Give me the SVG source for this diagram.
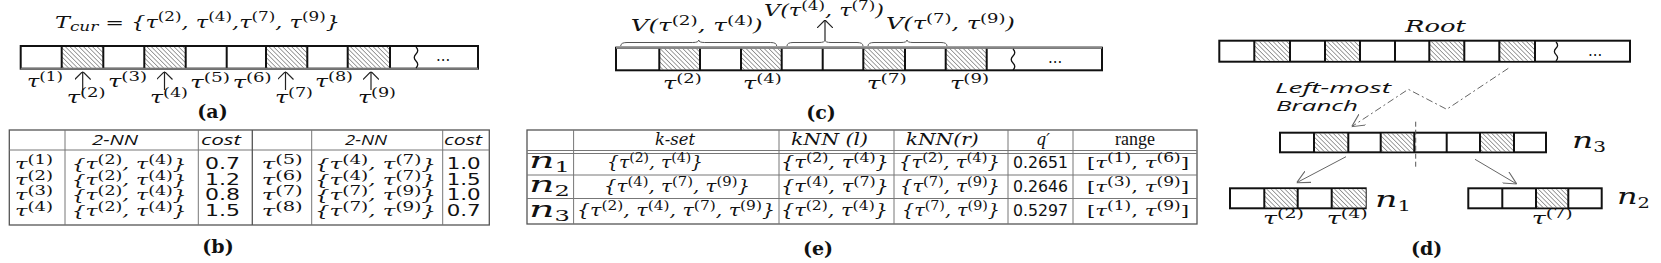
<svg xmlns="http://www.w3.org/2000/svg" width="1661" height="263" viewBox="0 0 1661 263">
<style>
.bg{fill:#fff}
.cell{fill:#fff;stroke:#111;stroke-width:2}
.hat{fill:url(#h);stroke:none}
.dv{stroke:#111;stroke-width:2}
.m{font-family:"DejaVu Serif",serif;font-style:italic;font-size:16px;fill:#111}
.t{font-size:15px}
.s{font-size:12px;font-style:normal}
.lab{font-family:"DejaVu Serif",serif;font-weight:bold;font-size:19px;fill:#111}
.sans{font-family:"Open Sans","DejaVu Sans",sans-serif;font-style:italic;font-size:15px;fill:#111}
.num{font-family:"DejaVu Sans",sans-serif;font-size:15px;fill:#111}
.rm{font-family:"DejaVu Serif",serif;font-size:15px;fill:#111}
.tl{stroke:#777;stroke-width:1;fill:none}
.tb{stroke:#555;stroke-width:1.3;fill:none}
.ar{stroke:#222;stroke-width:1.2;fill:none}
.gr{stroke:#666;stroke-width:1;fill:none}
.br{stroke:#555;stroke-width:1;fill:none}
.nn{font-family:"DejaVu Serif",serif;font-style:italic;font-size:23px;fill:#111}
.sub{font-size:14px;font-style:normal}
</style>
<defs>
<pattern id="h" patternUnits="userSpaceOnUse" width="3.2" height="3.2" patternTransform="rotate(-45)">
<rect width="3.2" height="3.2" fill="#fff"/>
<line x1="0" y1="0" x2="0" y2="3.2" stroke="#444" stroke-width="1"/>
</pattern>
<marker id="oa" viewBox="0 0 8 16" refX="8" refY="8" markerWidth="8" markerHeight="16" orient="auto" markerUnits="userSpaceOnUse">
<path d="M0,0 L8,8 L0,16" fill="none" stroke="#222" stroke-width="1.2"/>
</marker>
<marker id="ga" viewBox="0 0 12 12" refX="12" refY="6" markerWidth="13" markerHeight="13" orient="auto" markerUnits="userSpaceOnUse">
<path d="M0,0 L12,6 L0,12" fill="none" stroke="#666" stroke-width="1"/>
</marker>
</defs>
<rect class="bg" width="1661" height="263"/>

<!-- (a) -->
<g id="panel-a">
<text class="m" x="55" y="28" font-size="17" textLength="285" lengthAdjust="spacingAndGlyphs">T<tspan class="s" style="font-style:italic" dy="3">cur</tspan><tspan dy="-3"> = {τ</tspan><tspan class="s" dy="-7">(2)</tspan><tspan dy="7">, τ</tspan><tspan class="s" dy="-7">(4)</tspan><tspan dy="7">,τ</tspan><tspan class="s" dy="-7">(7)</tspan><tspan dy="7">, τ</tspan><tspan class="s" dy="-7">(9)</tspan><tspan dy="7">}</tspan></text>
<g id="array-a">
<rect class="cell" x="20.7" y="46" width="457.3" height="22.7"/>
<rect class="hat" x="61.7" y="47" width="41.6" height="20.7"/>
<rect class="hat" x="144.3" y="47" width="41.4" height="20.7"/>
<rect class="hat" x="266" y="47" width="41.3" height="20.7"/>
<rect class="hat" x="347.7" y="47" width="42.3" height="20.7"/>
<path class="dv" d="M61.7,46V68.7M103.3,46V68.7M144.3,46V68.7M185.7,46V68.7M226.7,46V68.7M266,46V68.7M307.3,46V68.7M347.7,46V68.7M390,46V68.7"/>
<line x1="20.7" y1="68.7" x2="478" y2="68.7" stroke="#777" stroke-width="2"/>
<path d="M416,47 q3.5,3.5 0,7 q-3.5,3.5 0,7 q3.5,3.5 0,7" fill="none" stroke="#111" stroke-width="1.3"/>
<text class="num" x="436" y="61">...</text>
</g>
<g id="arrows-a">
<line class="ar" x1="82.7" y1="90" x2="82.7" y2="71.5" marker-end="url(#oa)"/>
<line class="ar" x1="164.5" y1="90" x2="164.5" y2="71.5" marker-end="url(#oa)"/>
<line class="ar" x1="285.5" y1="90" x2="285.5" y2="71.5" marker-end="url(#oa)"/>
<line class="ar" x1="371" y1="90" x2="371" y2="71.5" marker-end="url(#oa)"/>
</g>
<g id="labels-a">
<text class="m" x="27" y="87" textLength="36" lengthAdjust="spacingAndGlyphs">τ<tspan class="s" dy="-6">(1)</tspan></text>
<text class="m" x="66.7" y="103" textLength="39" lengthAdjust="spacingAndGlyphs">τ<tspan class="s" dy="-6">(2)</tspan></text>
<text class="m" x="108" y="87" textLength="39" lengthAdjust="spacingAndGlyphs">τ<tspan class="s" dy="-6">(3)</tspan></text>
<text class="m" x="150" y="103" textLength="38" lengthAdjust="spacingAndGlyphs">τ<tspan class="s" dy="-6">(4)</tspan></text>
<text class="m" x="190" y="88" textLength="40" lengthAdjust="spacingAndGlyphs">τ<tspan class="s" dy="-6">(5)</tspan></text>
<text class="m" x="232.7" y="88" textLength="39" lengthAdjust="spacingAndGlyphs">τ<tspan class="s" dy="-6">(6)</tspan></text>
<text class="m" x="275" y="103" textLength="38" lengthAdjust="spacingAndGlyphs">τ<tspan class="s" dy="-6">(7)</tspan></text>
<text class="m" x="315" y="87" textLength="38" lengthAdjust="spacingAndGlyphs">τ<tspan class="s" dy="-6">(8)</tspan></text>
<text class="m" x="358" y="103" textLength="38" lengthAdjust="spacingAndGlyphs">τ<tspan class="s" dy="-6">(9)</tspan></text>
</g>
<text class="lab" x="212.5" y="118" text-anchor="middle">(a)</text>
</g>

<!-- (b) -->
<g id="panel-b">
<rect class="tb" x="9.3" y="130" width="480" height="95"/>
<path class="tl" d="M9.3,150H489.3M65,130V225M198.3,130V225M311.7,130V225M442.7,130V225"/>
<line x1="252.3" y1="130" x2="252.3" y2="225" stroke="#555" stroke-width="1.3"/>
<text class="sans" x="92" y="145" textLength="46" lengthAdjust="spacingAndGlyphs">2-NN</text>
<text class="sans" x="201" y="145" textLength="40" lengthAdjust="spacingAndGlyphs">cost</text>
<text class="sans" x="345" y="145" textLength="42" lengthAdjust="spacingAndGlyphs">2-NN</text>
<text class="sans" x="444" y="145" textLength="38" lengthAdjust="spacingAndGlyphs">cost</text>
<g id="rows-b-left">
<text class="m t" x="15" y="169" textLength="38" lengthAdjust="spacingAndGlyphs">τ<tspan class="s" dy="-5">(1)</tspan></text>
<text class="m t" x="15" y="184.5" textLength="38" lengthAdjust="spacingAndGlyphs">τ<tspan class="s" dy="-5">(2)</tspan></text>
<text class="m t" x="15" y="200" textLength="38" lengthAdjust="spacingAndGlyphs">τ<tspan class="s" dy="-5">(3)</tspan></text>
<text class="m t" x="15" y="216" textLength="38" lengthAdjust="spacingAndGlyphs">τ<tspan class="s" dy="-5">(4)</tspan></text>
<text class="m t" x="71.7" y="169" textLength="115" lengthAdjust="spacingAndGlyphs">{τ<tspan class="s" dy="-5">(2)</tspan><tspan dy="5">, τ</tspan><tspan class="s" dy="-5">(4)</tspan><tspan dy="5">}</tspan></text>
<text class="m t" x="71.7" y="184.5" textLength="115" lengthAdjust="spacingAndGlyphs">{τ<tspan class="s" dy="-5">(2)</tspan><tspan dy="5">, τ</tspan><tspan class="s" dy="-5">(4)</tspan><tspan dy="5">}</tspan></text>
<text class="m t" x="71.7" y="200" textLength="115" lengthAdjust="spacingAndGlyphs">{τ<tspan class="s" dy="-5">(2)</tspan><tspan dy="5">, τ</tspan><tspan class="s" dy="-5">(4)</tspan><tspan dy="5">}</tspan></text>
<text class="m t" x="71.7" y="216" textLength="115" lengthAdjust="spacingAndGlyphs">{τ<tspan class="s" dy="-5">(2)</tspan><tspan dy="5">, τ</tspan><tspan class="s" dy="-5">(4)</tspan><tspan dy="5">}</tspan></text>
<text class="num" x="205" y="169" textLength="35" lengthAdjust="spacingAndGlyphs">0.7</text>
<text class="num" x="205" y="184.5" textLength="35" lengthAdjust="spacingAndGlyphs">1.2</text>
<text class="num" x="205" y="200" textLength="35" lengthAdjust="spacingAndGlyphs">0.8</text>
<text class="num" x="205" y="216" textLength="35" lengthAdjust="spacingAndGlyphs">1.5</text>
</g>
<g id="rows-b-right">
<text class="m t" x="261.7" y="169" textLength="41" lengthAdjust="spacingAndGlyphs">τ<tspan class="s" dy="-5">(5)</tspan></text>
<text class="m t" x="261.7" y="184.5" textLength="41" lengthAdjust="spacingAndGlyphs">τ<tspan class="s" dy="-5">(6)</tspan></text>
<text class="m t" x="261.7" y="200" textLength="41" lengthAdjust="spacingAndGlyphs">τ<tspan class="s" dy="-5">(7)</tspan></text>
<text class="m t" x="261.7" y="216" textLength="41" lengthAdjust="spacingAndGlyphs">τ<tspan class="s" dy="-5">(8)</tspan></text>
<text class="m t" x="315" y="169" textLength="121" lengthAdjust="spacingAndGlyphs">{τ<tspan class="s" dy="-5">(4)</tspan><tspan dy="5">, τ</tspan><tspan class="s" dy="-5">(7)</tspan><tspan dy="5">}</tspan></text>
<text class="m t" x="315" y="184.5" textLength="121" lengthAdjust="spacingAndGlyphs">{τ<tspan class="s" dy="-5">(4)</tspan><tspan dy="5">, τ</tspan><tspan class="s" dy="-5">(7)</tspan><tspan dy="5">}</tspan></text>
<text class="m t" x="315" y="200" textLength="121" lengthAdjust="spacingAndGlyphs">{τ<tspan class="s" dy="-5">(7)</tspan><tspan dy="5">, τ</tspan><tspan class="s" dy="-5">(9)</tspan><tspan dy="5">}</tspan></text>
<text class="m t" x="315" y="216" textLength="121" lengthAdjust="spacingAndGlyphs">{τ<tspan class="s" dy="-5">(7)</tspan><tspan dy="5">, τ</tspan><tspan class="s" dy="-5">(9)</tspan><tspan dy="5">}</tspan></text>
<text class="num" x="446.7" y="169" textLength="34" lengthAdjust="spacingAndGlyphs">1.0</text>
<text class="num" x="446.7" y="184.5" textLength="34" lengthAdjust="spacingAndGlyphs">1.5</text>
<text class="num" x="446.7" y="200" textLength="34" lengthAdjust="spacingAndGlyphs">1.0</text>
<text class="num" x="446.7" y="216" textLength="34" lengthAdjust="spacingAndGlyphs">0.7</text>
</g>
<text class="lab" x="218" y="253" text-anchor="middle">(b)</text>
</g>

<!-- (c) -->
<g id="panel-c">
<g id="array-c">
<rect class="cell" x="616" y="47.7" width="486" height="22.6"/>
<rect class="hat" x="659.3" y="48.7" width="40.7" height="20.6"/>
<rect class="hat" x="741" y="48.7" width="40.7" height="20.6"/>
<rect class="hat" x="863.3" y="48.7" width="41.7" height="20.6"/>
<rect class="hat" x="945.7" y="48.7" width="41" height="20.6"/>
<path class="dv" d="M659.3,47.7V70.3M700,47.7V70.3M741,47.7V70.3M781.7,47.7V70.3M822.7,47.7V70.3M863.3,47.7V70.3M905,47.7V70.3M945.7,47.7V70.3M986.7,47.7V70.3"/>
<line x1="616" y1="47.7" x2="1102" y2="47.7" stroke="#888" stroke-width="2.2"/>
<path d="M1013,49 q3.5,3.5 0,7 q-3.5,3.5 0,7 q3.5,3.5 0,7" fill="none" stroke="#111" stroke-width="1.3"/>
<text class="num" x="1048" y="63">...</text>
</g>
<g id="braces-c">
<path class="br" d="M620.7,46 Q620.7,42.5 627,42.5 L692.7,42.5 Q698.7,42.5 698.7,40 Q698.7,42.5 704.7,42.5 L770.7,42.5 Q776.7,42.5 776.7,46"/>
<path class="br" d="M787,46 Q787,42.5 793,42.5 L819,42.5 Q825,42.5 825,40 Q825,42.5 831,42.5 L857,42.5 Q863,42.5 863,46"/>
<path class="br" d="M868,46 Q868,42.5 874,42.5 L901,42.5 Q907,42.5 907,40 Q907,42.5 913,42.5 L941,42.5 Q947,42.5 947,46"/>
<line class="ar" x1="825" y1="40" x2="825" y2="20" marker-end="url(#oa)"/>
</g>
<text class="m" x="630.7" y="30.5" textLength="132" lengthAdjust="spacingAndGlyphs">V(τ<tspan class="s" dy="-6">(2)</tspan><tspan dy="6">, τ</tspan><tspan class="s" dy="-6">(4)</tspan><tspan dy="6">)</tspan></text>
<text class="m" x="764" y="16" textLength="120" lengthAdjust="spacingAndGlyphs">V(τ<tspan class="s" dy="-6">(4)</tspan><tspan dy="6">, τ</tspan><tspan class="s" dy="-6">(7)</tspan><tspan dy="6">)</tspan></text>
<text class="m" x="886" y="29" textLength="129" lengthAdjust="spacingAndGlyphs">V(τ<tspan class="s" dy="-6">(7)</tspan><tspan dy="6">, τ</tspan><tspan class="s" dy="-6">(9)</tspan><tspan dy="6">)</tspan></text>
<text class="m" x="663" y="89" textLength="38.7" lengthAdjust="spacingAndGlyphs">τ<tspan class="s" dy="-6">(2)</tspan></text>
<text class="m" x="743" y="89" textLength="38.7" lengthAdjust="spacingAndGlyphs">τ<tspan class="s" dy="-6">(4)</tspan></text>
<text class="m" x="866.7" y="89" textLength="40" lengthAdjust="spacingAndGlyphs">τ<tspan class="s" dy="-6">(7)</tspan></text>
<text class="m" x="950" y="89" textLength="39" lengthAdjust="spacingAndGlyphs">τ<tspan class="s" dy="-6">(9)</tspan></text>
<text class="lab" x="821" y="119" text-anchor="middle">(c)</text>
</g>

<!-- (e) -->
<g id="panel-e">
<rect class="tb" x="527" y="130" width="670" height="94"/>
<path class="tl" d="M527,150.5H1197M527,153.5H1197M527,175H1197M527,198.5H1197M573.6,130V224M779,130V224M894,130V224M1008,130V224M1073,130V224"/>
<text class="m" x="655" y="145" textLength="40" lengthAdjust="spacingAndGlyphs">k-set</text>
<text class="m" x="791" y="145" textLength="77" lengthAdjust="spacingAndGlyphs">kNN (l)</text>
<text class="m" x="905.7" y="145" textLength="73" lengthAdjust="spacingAndGlyphs">kNN(r)</text>
<text class="m" x="1036" y="145">q′</text>
<text x="1135" y="145" font-family="Liberation Serif, serif" font-size="18" fill="#111" text-anchor="middle">range</text>
<g id="row-n1">
<text class="nn" x="529" y="168" textLength="41" lengthAdjust="spacingAndGlyphs">n<tspan class="sub" dy="4">1</tspan></text>
<text class="m" x="607" y="168" textLength="96" lengthAdjust="spacingAndGlyphs">{τ<tspan class="s" dy="-6">(2)</tspan><tspan dy="6">, τ</tspan><tspan class="s" dy="-6">(4)</tspan><tspan dy="6">}</tspan></text>
<text class="m" x="781" y="168" textLength="108" lengthAdjust="spacingAndGlyphs">{τ<tspan class="s" dy="-6">(2)</tspan><tspan dy="6">, τ</tspan><tspan class="s" dy="-6">(4)</tspan><tspan dy="6">}</tspan></text>
<text class="m" x="899" y="168" textLength="101" lengthAdjust="spacingAndGlyphs">{τ<tspan class="s" dy="-6">(2)</tspan><tspan dy="6">, τ</tspan><tspan class="s" dy="-6">(4)</tspan><tspan dy="6">}</tspan></text>
<text class="num" x="1013" y="168" textLength="55" lengthAdjust="spacingAndGlyphs">0.2651</text>
<text class="rm" x="1087" y="168" textLength="102" lengthAdjust="spacingAndGlyphs">[<tspan font-style="italic">τ</tspan><tspan class="s" dy="-6">(1)</tspan><tspan dy="6">, </tspan><tspan font-style="italic">τ</tspan><tspan class="s" dy="-6">(6)</tspan><tspan dy="6">]</tspan></text>
</g>
<g id="row-n2">
<text class="nn" x="529" y="192" textLength="41" lengthAdjust="spacingAndGlyphs">n<tspan class="sub" dy="4">2</tspan></text>
<text class="m" x="604" y="192" textLength="146" lengthAdjust="spacingAndGlyphs">{τ<tspan class="s" dy="-6">(4)</tspan><tspan dy="6">, τ</tspan><tspan class="s" dy="-6">(7)</tspan><tspan dy="6">, τ</tspan><tspan class="s" dy="-6">(9)</tspan><tspan dy="6">}</tspan></text>
<text class="m" x="781" y="192" textLength="108" lengthAdjust="spacingAndGlyphs">{τ<tspan class="s" dy="-6">(4)</tspan><tspan dy="6">, τ</tspan><tspan class="s" dy="-6">(7)</tspan><tspan dy="6">}</tspan></text>
<text class="m" x="900" y="192" textLength="100" lengthAdjust="spacingAndGlyphs">{τ<tspan class="s" dy="-6">(7)</tspan><tspan dy="6">, τ</tspan><tspan class="s" dy="-6">(9)</tspan><tspan dy="6">}</tspan></text>
<text class="num" x="1013" y="192" textLength="55" lengthAdjust="spacingAndGlyphs">0.2646</text>
<text class="rm" x="1087" y="192" textLength="102" lengthAdjust="spacingAndGlyphs">[<tspan font-style="italic">τ</tspan><tspan class="s" dy="-6">(3)</tspan><tspan dy="6">, </tspan><tspan font-style="italic">τ</tspan><tspan class="s" dy="-6">(9)</tspan><tspan dy="6">]</tspan></text>
</g>
<g id="row-n3">
<text class="nn" x="529" y="217" textLength="41" lengthAdjust="spacingAndGlyphs">n<tspan class="sub" dy="4">3</tspan></text>
<text class="m" x="577" y="216" textLength="198" lengthAdjust="spacingAndGlyphs">{τ<tspan class="s" dy="-6">(2)</tspan><tspan dy="6">, τ</tspan><tspan class="s" dy="-6">(4)</tspan><tspan dy="6">, τ</tspan><tspan class="s" dy="-6">(7)</tspan><tspan dy="6">, τ</tspan><tspan class="s" dy="-6">(9)</tspan><tspan dy="6">}</tspan></text>
<text class="m" x="781" y="216" textLength="107" lengthAdjust="spacingAndGlyphs">{τ<tspan class="s" dy="-6">(2)</tspan><tspan dy="6">, τ</tspan><tspan class="s" dy="-6">(4)</tspan><tspan dy="6">}</tspan></text>
<text class="m" x="902" y="216" textLength="98" lengthAdjust="spacingAndGlyphs">{τ<tspan class="s" dy="-6">(7)</tspan><tspan dy="6">, τ</tspan><tspan class="s" dy="-6">(9)</tspan><tspan dy="6">}</tspan></text>
<text class="num" x="1013" y="216" textLength="55" lengthAdjust="spacingAndGlyphs">0.5297</text>
<text class="rm" x="1087" y="216" textLength="102" lengthAdjust="spacingAndGlyphs">[<tspan font-style="italic">τ</tspan><tspan class="s" dy="-6">(1)</tspan><tspan dy="6">, </tspan><tspan font-style="italic">τ</tspan><tspan class="s" dy="-6">(9)</tspan><tspan dy="6">]</tspan></text>
</g>
<text class="lab" x="818" y="255" text-anchor="middle">(e)</text>
</g>

<!-- (d) -->
<g id="panel-d">
<text class="m" x="1405" y="31.7" textLength="61" lengthAdjust="spacingAndGlyphs">Root</text>
<g id="node-root">
<rect class="cell" x="1219.3" y="40.7" width="410.7" height="21"/>
<rect class="hat" x="1254.3" y="41.7" width="35.7" height="19"/>
<rect class="hat" x="1325" y="41.7" width="35" height="19"/>
<rect class="hat" x="1429.3" y="41.7" width="35" height="19"/>
<rect class="hat" x="1499.3" y="41.7" width="35.7" height="19"/>
<path class="dv" d="M1254.3,40.7V61.7M1290,40.7V61.7M1325,40.7V61.7M1360,40.7V61.7M1395,40.7V61.7M1429.3,40.7V61.7M1464.3,40.7V61.7M1499.3,40.7V61.7M1535,40.7V61.7"/>
<path d="M1556,42 q3.2,3.2 0,6.3 q-3.2,3.2 0,6.3 q3.2,3.2 0,6.3" fill="none" stroke="#111" stroke-width="1.3"/>
<text class="num" x="1588" y="56">...</text>
</g>
<g id="node-n3">
<rect class="cell" x="1280" y="132.7" width="266" height="19.6"/>
<rect class="hat" x="1314" y="133.7" width="34.3" height="17.6"/>
<rect class="hat" x="1380.7" y="133.7" width="33.6" height="17.6"/>
<rect class="hat" x="1480" y="133.7" width="34" height="17.6"/>
<path class="dv" d="M1314,132.7V152.3M1348.3,132.7V152.3M1380.7,132.7V152.3M1414.3,132.7V152.3M1446.7,132.7V152.3M1480,132.7V152.3M1514,132.7V152.3"/>
<text class="nn" x="1572" y="148" textLength="34" lengthAdjust="spacingAndGlyphs">n<tspan class="sub" dy="4">3</tspan></text>
</g>
<g id="node-n1">
<rect class="cell" x="1230" y="188.3" width="135.7" height="20"/>
<rect class="hat" x="1264.3" y="189.3" width="33.4" height="18"/>
<rect class="hat" x="1331.7" y="189.3" width="34" height="18"/>
<path class="dv" d="M1264.3,188.3V208.3M1297.7,188.3V208.3M1331.7,188.3V208.3"/>
<text class="nn" x="1375" y="206.7" textLength="36" lengthAdjust="spacingAndGlyphs">n<tspan class="sub" dy="4">1</tspan></text>
<text class="m" x="1263" y="224" textLength="41" lengthAdjust="spacingAndGlyphs">τ<tspan class="s" dy="-6">(2)</tspan></text>
<text class="m" x="1326.7" y="224" textLength="41" lengthAdjust="spacingAndGlyphs">τ<tspan class="s" dy="-6">(4)</tspan></text>
</g>
<g id="node-n2">
<rect class="cell" x="1468.3" y="188.3" width="133.4" height="20"/>
<rect class="hat" x="1536" y="189.3" width="32.3" height="18"/>
<path class="dv" d="M1502.3,188.3V208.3M1536,188.3V208.3M1568.3,188.3V208.3"/>
<text class="nn" x="1617" y="204" textLength="33" lengthAdjust="spacingAndGlyphs">n<tspan class="sub" dy="4">2</tspan></text>
<text class="m" x="1531.7" y="224" textLength="41" lengthAdjust="spacingAndGlyphs">τ<tspan class="s" dy="-6">(7)</tspan></text>
</g>
<g id="connectors-d">
<path class="gr" d="M1508.3,68.3 L1446.7,109.3 L1408.3,89.3 L1351.7,126.7" stroke-dasharray="7,3,2,3" marker-end="url(#ga)"/>
<line x1="1415.7" y1="121.7" x2="1415.7" y2="166.7" stroke="#555" stroke-width="1" stroke-dasharray="5,3"/>
<line class="gr" x1="1346" y1="156.7" x2="1296.7" y2="182.7" marker-end="url(#ga)"/>
<line class="gr" x1="1475" y1="159.3" x2="1516.7" y2="184" marker-end="url(#ga)"/>
</g>
<text class="sans" x="1275" y="92.7" font-size="16" textLength="116" lengthAdjust="spacingAndGlyphs">Left-most</text>
<text class="sans" x="1276" y="111" font-size="16" textLength="82" lengthAdjust="spacingAndGlyphs">Branch</text>
<text class="lab" x="1426.7" y="255" text-anchor="middle">(d)</text>
</g>
</svg>
